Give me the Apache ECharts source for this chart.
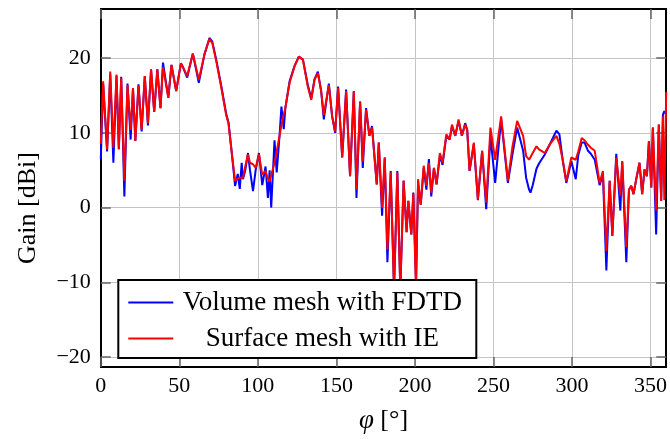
<!DOCTYPE html>
<html><head><meta charset="utf-8">
<script src="https://cdn.jsdelivr.net/npm/echarts@6/dist/echarts.min.js"></script>
<style>html,body{margin:0;padding:0;background:#fff}#c{width:670px;height:439px}</style>
</head><body><div id="c"></div>
<script>
const phi = [0,1.5,4,6,8,10,11.5,13,15,17,19,20.5,22,24,26,28,30,32,34,36,38,39.6,43,45,48,51,52.5,55,58.6,62.4,66,69.2,71,73.5,76.6,79.8,81.3,83.4,85.5,87.2,88.5,89.7,90.5,92,93.7,95,96.9,98.6,100.7,102.8,104.9,106.4,107.5,108.5,110.6,112,113.8,115,116.5,117.5,120.2,123.4,126.1,128.7,131.8,134,136.1,138.2,140.3,142,145.2,147.3,149.2,151.1,153.7,156.2,158.7,161.1,162.8,165.1,166.8,168.9,171,172.7,175.7,177,179.1,180.8,182.5,184.6,186.7,188.8,190.7,192.8,194.7,195.8,197.7,199,200.7,202,203.7,205.6,207.3,208.9,210.4,212.1,213.8,215.9,217.6,220,222.1,223.6,225.7,227.8,229.9,232,233.3,234.8,237.5,240.1,242.8,245.4,248.1,251.1,254.9,259.2,262,265.1,268.9,270.8,272.7,273.6,275,277.4,279,282.7,286,290.1,292,294,296.4,299.6,302.4,304,306.2,308,310.2,312,314.5,317.6,319.7,321.9,324,325.7,328.2,330.8,332,334.6,336.3,337.8,339.2,340.9,343,344.7,346.2,347.7,349,350.5,351.5,353.6,355.3,356.8,357.9,358.8,360];
const gainFDTD = [6.5,16.5,7.5,17.8,6.0,17.6,7.8,17.5,1.5,16.6,9.1,16.0,8.9,16.5,10.2,17.6,11.0,18.5,12.8,18.5,13.3,19.4,14.7,19.1,15.6,19.3,18.7,17.4,20.6,16.7,20.5,22.7,22.2,19.8,16.4,12.6,11.4,7.3,2.9,4.5,2.5,6.0,3.8,5.0,7.3,5.0,2.2,5.0,7.3,3.0,5.5,1.3,5.0,0.0,9.0,4.7,9.6,13.5,10.5,13.3,16.9,19.0,20.2,19.8,16.4,14.6,17.2,18.2,15.6,11.8,16.6,12.2,10.0,16.2,6.7,15.8,4.2,15.6,1.3,14.2,5.3,13.3,9.6,10.9,3.1,8.7,-1.1,6.7,-7.3,4.9,-11,4.9,-11,3.6,-3.3,0.9,-3.6,2.0,-10,3.2,0.4,5.3,2.4,6.5,1.5,5.3,3.1,7.0,5.7,9.6,9.1,10.9,9.6,11.6,9.6,11.3,10.4,4.9,8.5,1.0,7.6,-0.2,9.5,3.3,11.8,3.3,7.0,10.7,7.6,4.0,2.4,2.0,3.0,5.2,5.9,7.1,8.5,10.3,9.8,6.5,3.3,6.2,3.8,7.0,8.7,8.7,7.6,7.2,6.4,3.0,4.5,-8.4,3.6,-3.8,7.2,-0.4,6.2,-7.3,2.4,2.9,1.8,3.8,6.0,1.8,5.1,4.2,8.9,2.7,10.7,-3.6,11.1,0.9,12.4,12.9,12.5];
const gainIE = [8.5,16.9,7.8,18.2,8.0,17.8,7.8,17.3,3.6,16.4,10.4,16.0,8.9,16.3,10.4,17.6,11.3,18.5,12.8,18.5,13.3,18.8,14.7,19.1,15.6,19.3,18.7,17.6,20.6,17.1,20.5,22.6,22.0,19.6,16.2,12.4,11.3,7.3,3.6,3.9,4.0,4.2,4.0,5.5,7.1,6.0,5.8,5.3,7.1,4.4,4.9,3.8,3.5,3.3,6.0,7.5,9.6,11.0,12.5,13.3,16.7,18.9,20.2,19.8,16.2,14.4,17.1,18.0,15.6,12.4,16.4,12.2,10.2,16.0,6.7,15.6,4.2,15.6,2.4,14.2,6.2,13.1,9.6,10.7,3.1,8.7,0.0,6.7,-5.6,4.7,-11,4.7,-11,3.6,-3.3,0.9,-3.6,1.8,-11,3.8,0.4,5.6,2.9,6.0,2.0,5.3,3.1,7.3,6.0,9.8,9.1,11.1,9.6,11.8,9.6,11.1,10.4,4.9,8.7,1.1,7.6,0.7,10.7,6.4,12.2,3.6,8.0,11.6,9.6,6.9,6.4,6.5,7.3,8.2,7.8,7.3,8.5,9.6,8.5,6.5,3.5,6.7,6.4,7.5,9.3,9.0,8.4,8.0,7.6,3.3,4.9,-5.8,3.6,-3.8,6.7,1.6,6.2,-5.3,2.4,2.9,1.8,3.8,6.0,1.8,5.1,4.2,8.9,2.7,10.7,-0.4,11.1,0.9,12.2,1.0,15.5];
const seriesNames = ['Volume mesh with FDTD','Surface mesh with IE'];
const xTicks = [0,50,100,150,200,250,300,350];
const yTicks = [-20,-10,0,10,20];

const F = '"Liberation Serif", "Times New Roman", serif';
const chart = echarts.init(document.getElementById('c'), null, {renderer:'canvas'});
const tickStyle = {show:true, inside:true, length:10, lineStyle:{color:'#666', width:1.5}};
const frame = {show:true, onZero:false, lineStyle:{color:'#000', width:2}};
const grid = {color:'#c4c4c4', width:1};
chart.setOption({
  animation:false,
  grid:{left:100.8, right:2.6, top:9, bottom:70.7, containLabel:false},
  xAxis:[
    {type:'value', position:'bottom', min:0, max:360, axisLine:frame,
     axisTick:Object.assign({customValues:xTicks}, tickStyle),
     axisLabel:{customValues:xTicks, fontFamily:F, fontSize:22, color:'#000', margin:8},
     splitLine:{show:true, lineStyle:grid},
     name:'{i|φ} [°]', nameLocation:'middle', nameGap:40,
     nameTextStyle:{fontFamily:F, fontSize:26, color:'#000',
       rich:{i:{fontStyle:'italic', fontFamily:F, fontSize:27, color:'#000'}}}},
    {type:'value', position:'top', min:0, max:360, axisLine:frame,
     axisTick:Object.assign({customValues:xTicks}, tickStyle),
     axisLabel:{show:false}, splitLine:{show:false}}
  ],
  yAxis:[
    {type:'value', position:'left', min:-21.33, max:26.57, axisLine:frame,
     axisTick:Object.assign({customValues:yTicks}, tickStyle),
     axisLabel:{customValues:yTicks, fontFamily:F, fontSize:22, color:'#000', margin:10,
       formatter:v=>v<0?'−'+Math.abs(v):String(v)},
     splitLine:{show:true, lineStyle:grid},
     name:'Gain [dBi]', nameLocation:'middle', nameGap:60, nameRotate:90,
     nameTextStyle:{fontFamily:F, fontSize:26, color:'#000', padding:[0,40,0,0]}},
    {type:'value', position:'right', min:-21.33, max:26.57, axisLine:frame,
     axisTick:Object.assign({customValues:yTicks}, tickStyle),
     axisLabel:{show:false}, splitLine:{show:false}}
  ],
  legend:{
    left:118.3, top:280, orient:'vertical', data:seriesNames,
    backgroundColor:'#fff', borderColor:'#000', borderWidth:2,
    padding:[9,10,6,10], itemGap:9, itemWidth:45, itemHeight:14,
    icon:'path://M0,6 L45,6 L45,8 L0,8 Z',
    formatter:n=>'{a|'+n+'}',
    textStyle:{fontFamily:F, fontSize:27, color:'#000',
      rich:{a:{width:288, align:'center', fontFamily:F, fontSize:27, lineHeight:30}}}
  },
  series:[
    {name:seriesNames[0], type:'line', showSymbol:false, symbol:'none', z:2,
     data:phi.map((p,i)=>[p,gainFDTD[i]]), itemStyle:{color:'#0000ff'},
     lineStyle:{color:'#0000ff', width:2}},
    {name:seriesNames[1], type:'line', showSymbol:false, symbol:'none', z:3,
     data:phi.map((p,i)=>[p,gainIE[i]]), itemStyle:{color:'#ff0000'},
     lineStyle:{color:'#ff0000', width:2}}
  ]
});
</script></body></html>
